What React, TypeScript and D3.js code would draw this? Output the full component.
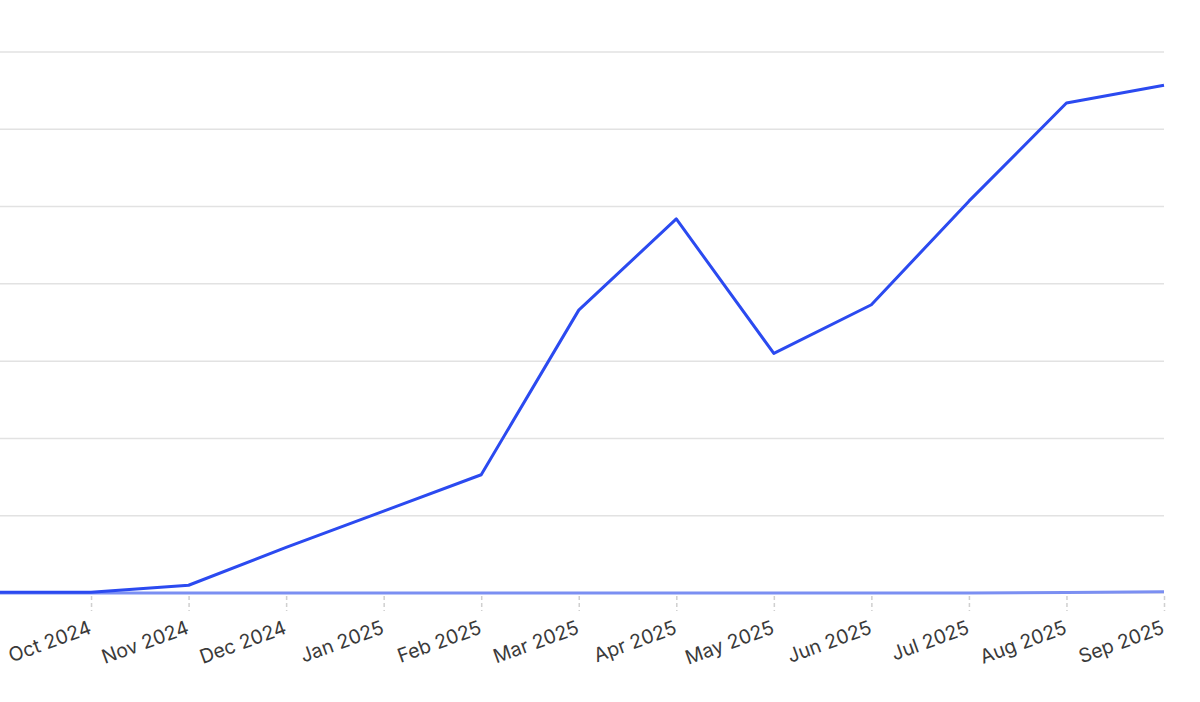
import { useEffect, useRef } from "react";
import * as d3 from "d3";

const months = [
  "Sep 2024", "Oct 2024", "Nov 2024", "Dec 2024", "Jan 2025", "Feb 2025",
  "Mar 2025", "Apr 2025", "May 2025", "Jun 2025", "Jul 2025", "Aug 2025", "Sep 2025",
];
const mainSeries = [0.1, 0.1, 1.0, 5.9, 10.6, 15.3, 36.6, 48.4, 31.0, 37.3, 50.7, 63.4, 65.7];
const baseSeries = [0, 0, 0, 0, 0, 0, 0, 0, 0, 0, 0, 0.05, 0.15];
const yTicks = [0, 10, 20, 30, 40, 50, 60, 70];

function App() {
  const ref = useRef<SVGSVGElement>(null);

  useEffect(() => {
    const width = 1200;
    const height = 702;
    const plotLeft = 0;
    const plotRight = 1164;
    const svg = d3.select(ref.current);
    svg.selectAll("*").remove();

    const x = d3.scalePoint<string>().domain(months).range([-6.5, 1164]);
    const y = d3.scaleLinear().domain([0, 70]).range([593, 52]);

    svg.append("defs").append("clipPath").attr("id", "plot-clip")
      .append("rect").attr("x", plotLeft).attr("y", 0)
      .attr("width", plotRight - plotLeft + 2).attr("height", height);

    // gridlines
    svg.append("g").selectAll("line").data(yTicks).join("line")
      .attr("x1", plotLeft).attr("x2", plotRight)
      .attr("y1", (d) => y(d)).attr("y2", (d) => y(d))
      .attr("stroke", "#e2e2e2").attr("stroke-width", 1.5);

    // x axis
    const xAxis = svg.append("g")
      .attr("transform", `translate(0,${y(0)})`)
      .call(d3.axisBottom(x).tickValues(months.slice(1)).tickSize(0).tickPadding(0));
    xAxis.select(".domain").remove();
    xAxis.selectAll(".tick").append("line")
      .attr("y1", 3).attr("y2", 18)
      .attr("stroke", "#d0d0d0").attr("stroke-width", 1.5)
      .attr("stroke-dasharray", "4,3");
    xAxis.selectAll(".tick text")
      .attr("font-family", "Inter, 'Noto Sans', sans-serif")
      .attr("font-size", 19.5)
      .attr("fill", "#3a3a3a")
      .attr("text-anchor", "end")
      .attr("dy", 0)
      .attr("transform", "translate(1,40) rotate(-20)");

    const line = d3.line<number>()
      .x((_, i) => x(months[i]) as number)
      .y((d) => y(d));

    const plot = svg.append("g").attr("clip-path", "url(#plot-clip)");
    plot.append("path").datum(baseSeries)
      .attr("fill", "none").attr("stroke", "#7b8ff2")
      .attr("stroke-width", 3).attr("d", line);
    plot.append("path").datum(mainSeries)
      .attr("fill", "none").attr("stroke", "#2b4af0")
      .attr("stroke-width", 3).attr("stroke-linejoin", "round")
      .attr("d", line);

    svg.attr("width", width).attr("height", height);
  }, []);

  return (
    <svg
      ref={ref}
      style={{ position: "absolute", left: 0, top: 0, background: "#fff" }}
    />
  );
}

export default App;
